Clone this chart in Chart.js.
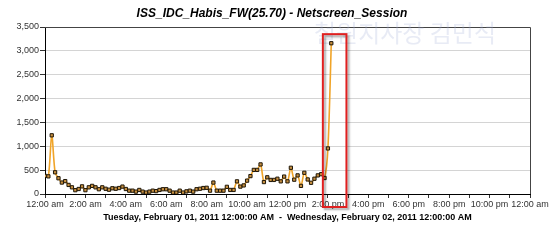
<!DOCTYPE html>
<html>
<head>
<meta charset="utf-8">
<script src="https://cdn.jsdelivr.net/npm/chart.js@4.4.1/dist/chart.umd.min.js"></script>
<style>
  html, body { margin: 0; padding: 0; background: #fff; }
  #wrap { position: relative; width: 560px; height: 241px; }
</style>
</head>
<body>
<div id="wrap"><canvas id="sessionChart"></canvas></div>
<script>
const chartTitle = "ISS_IDC_Habis_FW(25.70) - Netscreen_Session";
const rangeTitle = "Tuesday, February 01, 2011 12:00:00 AM  -  Wednesday, February 02, 2011 12:00:00 AM";
const watermark = "철원지사장 김민석";

// x tick labels, one per 2 hours
const hourLabels = ["12:00 am", "2:00 am", "4:00 am", "6:00 am", "8:00 am", "10:00 am",
  "12:00 pm", "2:00 pm", "4:00 pm", "6:00 pm", "8:00 pm", "10:00 pm", "12:00 am"];

// one sample every 10 minutes from 12:00 am
const sampleMinutes = 10;
const sessions = [
  380, 370, 1230, 455, 330, 240, 270, 190, 140, 80,
  105, 160, 80, 140, 170, 140, 100, 140, 110, 90,
  120, 110, 125, 155, 105, 70, 70, 50, 85, 50,
  30, 50, 70, 60, 85, 100, 100, 70, 30, 30,
  70, 30, 55, 70, 50, 100, 110, 125, 130, 70,
  240, 70, 70, 70, 150, 85, 85, 265, 155, 180,
  280, 375, 505, 505, 620, 250, 350, 295, 295, 320,
  265, 365, 265, 550, 300, 390, 170, 445, 305, 235,
  320, 390, 415, 335, 955, 3160
];

// highlighted window (minutes from midnight, session count at top)
const highlight = { from: 825, to: 895, top: 3350 };

const points = sessions.map((v, i) => ({ x: i * sampleMinutes, y: v }));

const extras = {
  id: "extras",
  beforeDatasetsDraw(chart) {
    const { ctx, chartArea: a } = chart;
    ctx.save();
    ctx.strokeStyle = "#444";
    ctx.lineWidth = 1;
    ctx.beginPath();
    ctx.moveTo(a.left, a.top + 0.5);
    ctx.lineTo(a.right + 0.5, a.top + 0.5);
    ctx.lineTo(a.right + 0.5, a.bottom);
    ctx.stroke();
    ctx.font = "24px 'Noto Sans CJK KR'";
    ctx.fillStyle = "rgba(165,175,215,0.25)";
    ctx.textAlign = "center";
    ctx.textBaseline = "middle";
    ctx.fillText(watermark, 405, 33);
    ctx.restore();
  },
  afterDatasetsDraw(chart) {
    const { ctx } = chart;
    const xs = chart.scales.x, ys = chart.scales.y;
    const x1 = xs.getPixelForValue(highlight.from);
    const x2 = xs.getPixelForValue(highlight.to);
    const y1 = ys.getPixelForValue(highlight.top);
    const y2 = ys.getPixelForValue(0) + 13;
    ctx.save();
    ctx.shadowColor = "rgba(0,0,0,0.35)";
    ctx.shadowBlur = 2;
    ctx.shadowOffsetX = 2;
    ctx.shadowOffsetY = 2;
    ctx.strokeStyle = "#e02020";
    ctx.lineWidth = 2;
    ctx.strokeRect(x1, y1, x2 - x1, y2 - y1);
    ctx.restore();
  },
  afterDraw(chart) {
    const { ctx } = chart;
    ctx.save();
    ctx.font = "italic bold 12px 'Liberation Sans', Arial, sans-serif";
    ctx.fillStyle = "#000";
    ctx.textAlign = "center";
    ctx.textBaseline = "middle";
    ctx.fillText(chartTitle, 272, 14);
    ctx.restore();
  }
};

new Chart(document.getElementById("sessionChart"), {
  type: "line",
  data: {
    datasets: [{
      data: points,
      borderColor: "#f0a428",
      borderWidth: 1.6,
      tension: 0.3,
      pointStyle: "rect",
      pointRadius: 2.3,
      pointBorderWidth: 1,
      pointBorderColor: "#1e1608",
      pointBackgroundColor: "#c89040"
    }]
  },
  options: {
    responsive: true,
    maintainAspectRatio: false,
    animation: false,
    devicePixelRatio: 1,
    layout: { padding: { top: 27, right: 30, left: 0, bottom: 0 } },
    plugins: { legend: { display: false }, tooltip: { enabled: false } },
    scales: {
      x: {
        type: "linear",
        min: 0,
        max: 1440,
        afterFit: (s) => { s.height = 47; },
        border: { color: "#000" },
        grid: { drawOnChartArea: false, drawTicks: true, tickLength: 4, tickColor: "#333" },
        ticks: {
          stepSize: 60,
          maxTicksLimit: 30,
          autoSkip: false,
          maxRotation: 0,
          padding: 1,
          color: "#333",
          font: { size: 9, family: "'Liberation Sans', Arial, sans-serif" },
          callback: (v) => (v % 120 === 0 ? hourLabels[v / 120] : "")
        },
        title: {
          display: true,
          text: rangeTitle,
          color: "#000",
          padding: { top: 4, bottom: 18 },
          font: { size: 9, weight: "bold", family: "'Liberation Sans', Arial, sans-serif" }
        }
      },
      y: {
        min: 0,
        max: 3500,
        afterFit: (s) => { s.width = 45; },
        border: { color: "#000" },
        grid: { color: "#d4d4d4", tickLength: 5, tickColor: "#333" },
        ticks: {
          stepSize: 500,
          padding: 1,
          color: "#333",
          font: { size: 9, family: "'Liberation Sans', Arial, sans-serif" },
          callback: (v) => v.toLocaleString("en-US")
        }
      }
    }
  },
  plugins: [extras]
});
</script>
</body>
</html>
